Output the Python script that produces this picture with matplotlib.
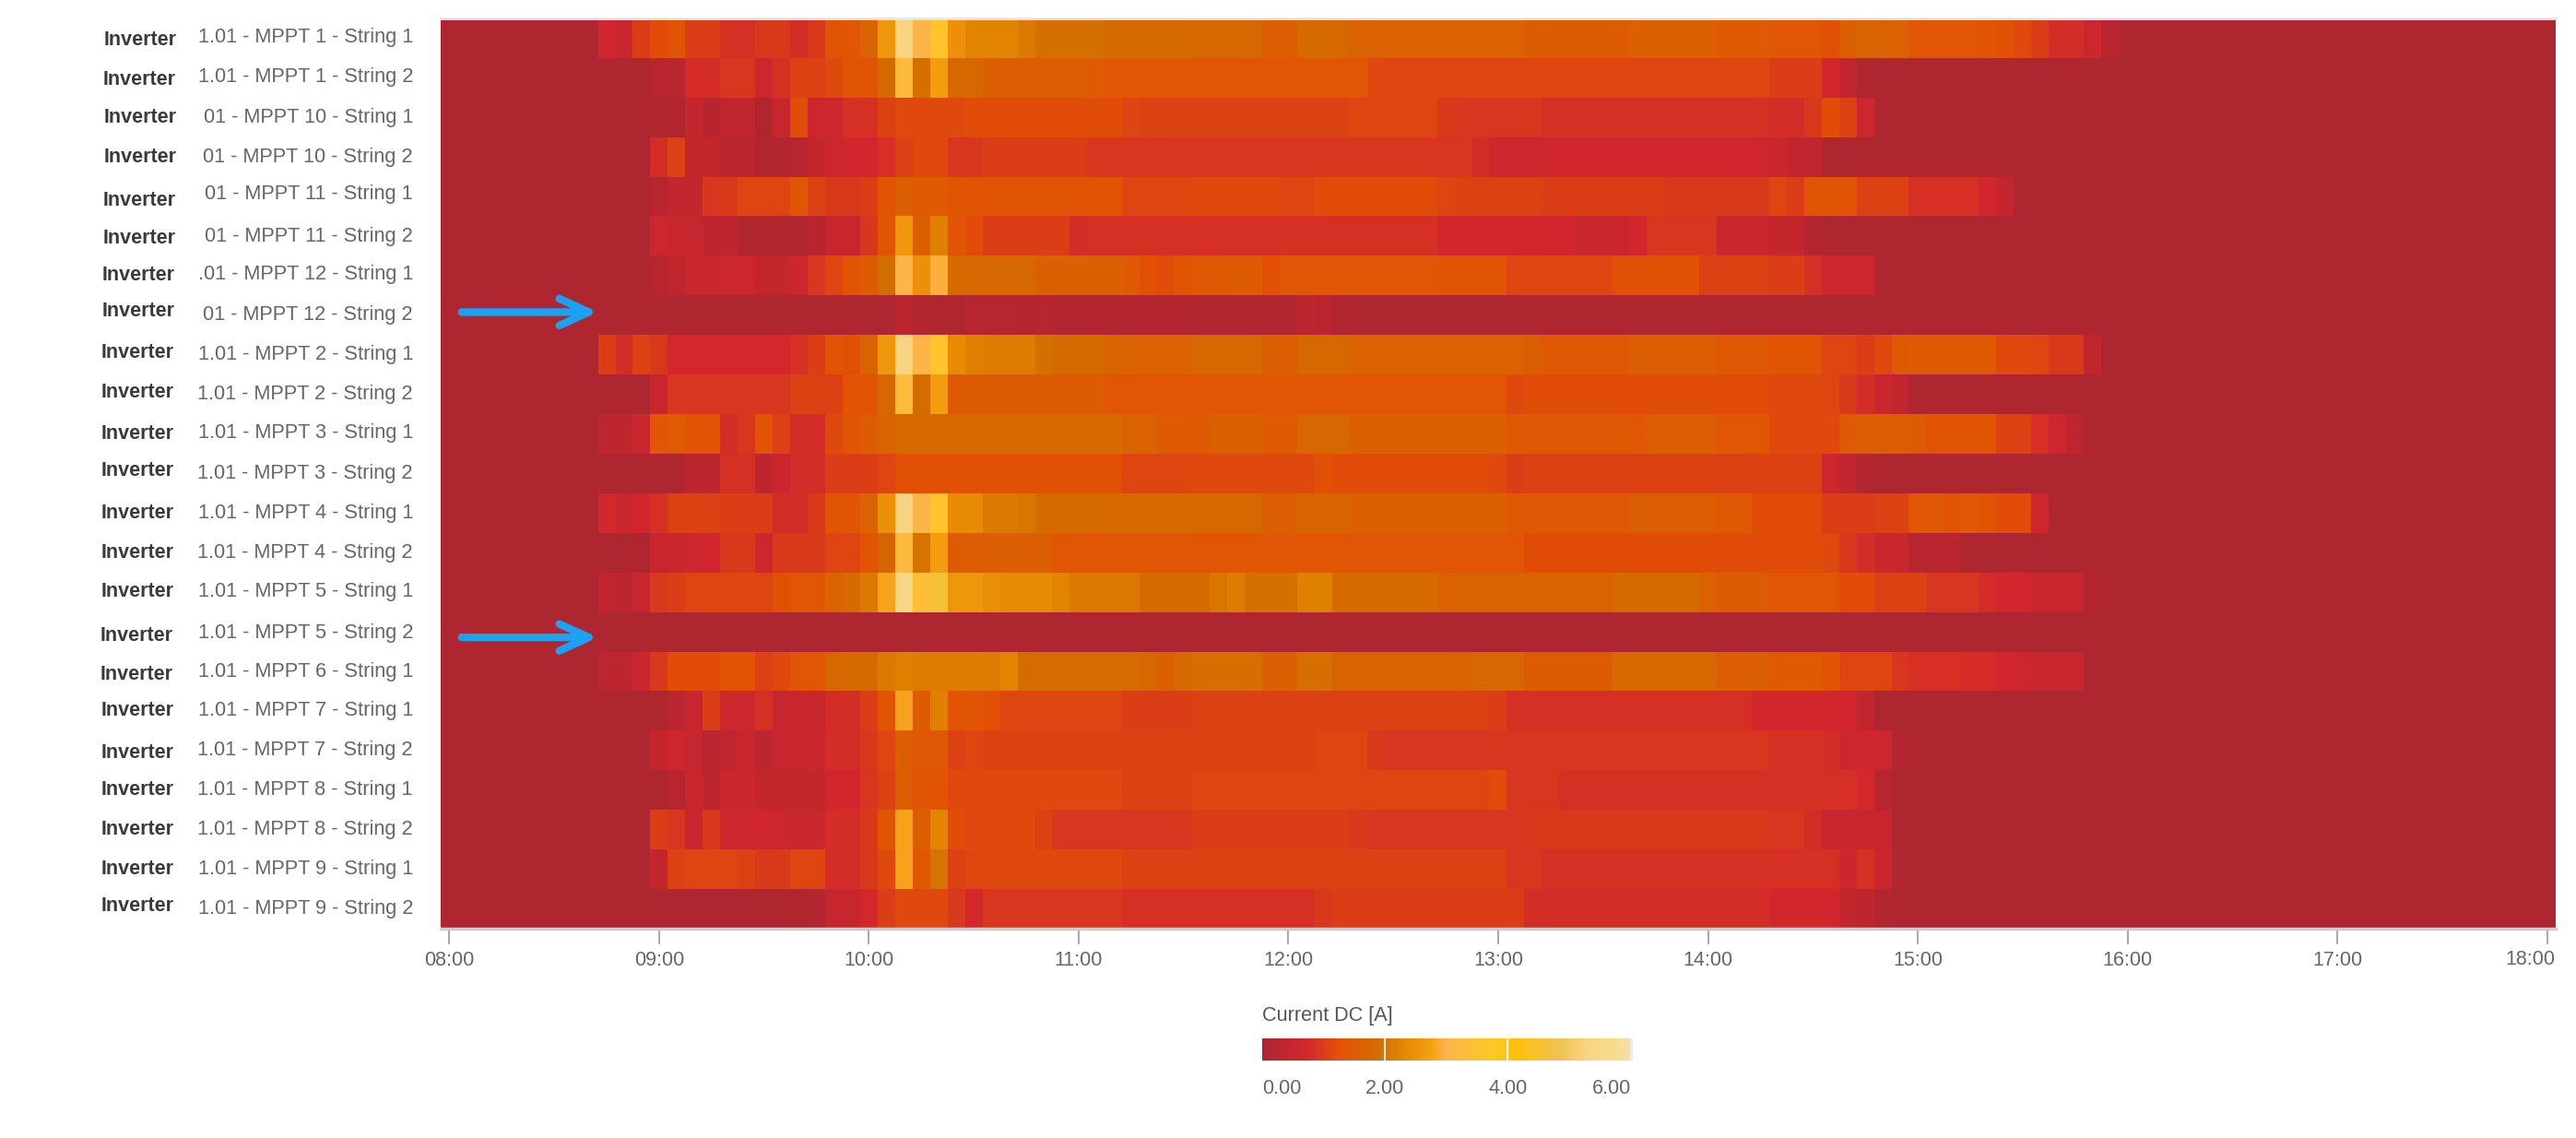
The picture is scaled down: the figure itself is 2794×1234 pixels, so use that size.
'''Heatmap of DC current per string over one day.'''

import numpy as np
import matplotlib
matplotlib.use("Agg")
import matplotlib.pyplot as plt
from matplotlib.colors import LinearSegmentedColormap

plt.rcParams["font.family"] = ["Liberation Sans", "DejaVu Sans"]

W, H = 2794, 1234

# ===============================================================
#  Data
# ===============================================================
row_labels = ["1.01 - MPPT 1 - String 1", "1.01 - MPPT 1 - String 2",
              "01 - MPPT 10 - String 1", "01 - MPPT 10 - String 2",
              "01 - MPPT 11 - String 1", "01 - MPPT 11 - String 2",
              ".01 - MPPT 12 - String 1", "01 - MPPT 12 - String 2",
              "1.01 - MPPT 2 - String 1", "1.01 - MPPT 2 - String 2",
              "1.01 - MPPT 3 - String 1", "1.01 - MPPT 3 - String 2",
              "1.01 - MPPT 4 - String 1", "1.01 - MPPT 4 - String 2",
              "1.01 - MPPT 5 - String 1", "1.01 - MPPT 5 - String 2",
              "1.01 - MPPT 6 - String 1", "1.01 - MPPT 7 - String 1",
              "1.01 - MPPT 7 - String 2", "1.01 - MPPT 8 - String 1",
              "1.01 - MPPT 8 - String 2", "1.01 - MPPT 9 - String 1",
              "1.01 - MPPT 9 - String 2"]
time_labels = ["08:00", "09:00", "10:00", "11:00", "12:00", "13:00",
               "14:00", "15:00", "16:00", "17:00", "18:00"]
cbar_ticks = [0, 2, 4, 6]
cbar_labels = ["0.00", "2.00", "4.00", "6.00"]

# current in A, 5 minute samples, 08:45 to 11:30
morning = [
 [.7,.55,1.0,1.2,1.3,1.0,1.0,.85,.85,.95, .95,.8,.95,1.3,1.35,1.7,2.6,5.3,3.0,3.6, 2.5,2.25,2.25,2.25,2.1,1.95,1.95,1.95,1.95,1.85, 1.85,1.85,1.85,1.85],
 [0,0,0,.25,.25,.8,.8,.9,.9,.65, .85,1.05,1.05,1.15,1.3,1.3,1.8,3.3,1.95,2.7, 1.75,1.75,1.55,1.55,1.55,1.55,1.55,1.55,1.45,1.35, 1.35,1.35,1.35,1.35],
 [0,0,0,.1,.1,.45,.2,.4,.4,.05, .5,1.2,.65,.65,.85,.85,1.05,1.15,1.15,1.15, 1.15,1.2,1.2,1.2,1.2,1.2,1.2,1.2,1.2,1.2, 1.1,1.05,1.05,1.05],
 [0,0,0,.8,1.05,.45,.45,.3,.3,.1, .1,.2,.45,.6,.7,.7,.85,1.05,1.15,1.15, .9,.9,1.0,1.0,1.0,1.0,1.0,1.0,.9,.9, .9,.9,.9,.9],
 [0,0,0,.2,.45,.45,.9,.95,1.1,1.1, 1.1,1.35,1.05,.95,.95,1.0,1.3,1.6,1.45,1.45, 1.3,1.3,1.3,1.3,1.3,1.3,1.3,1.3,1.3,1.3, 1.1,1.1,1.1,1.1],
 [0,0,0,.6,.5,.5,.35,.35,.1,.1, .1,.1,.2,.5,.5,.9,1.3,2.6,1.6,2.2, 1.3,1.2,1.0,1.0,1.0,1.0,1.0,.8,.85,.85, .85,.85,.85,.85],
 [0,0,0,.25,.4,.55,.55,.6,.65,.45, .45,.6,.9,1.1,1.3,1.5,1.9,3.05,2.5,2.95, 1.85,1.75,1.75,1.75,1.75,1.6,1.6,1.6,1.6,1.6, 1.45,1.25,1.2,1.3],
 [0,0,0,0,0,0,0,0,0,0, 0,0,0,0,0,0,0,.3,.1,.05, .05,.2,.2,.2,.15,.2,.12,.12,.12,.12, .12,.12,.12,.12],
 [1.0,.8,1.05,.95,.75,.75,.75,.75,.75,.75, .75,.85,1.0,1.3,1.25,1.7,2.6,5.3,3.0,3.6, 2.4,2.2,2.15,2.15,2.15,1.95,1.85,1.85,1.85,1.7, 1.65,1.65,1.65,1.65],
 [0,0,0,.5,.9,.9,.9,.9,.9,.9, .9,1.05,1.05,1.05,1.3,1.3,1.75,3.3,1.9,2.7, 1.4,1.5,1.5,1.5,1.5,1.5,1.5,1.5,1.5,1.35, 1.35,1.35,1.35,1.35],
 [.35,.35,.55,1.35,1.45,1.3,1.3,.8,.9,1.3, 1.05,.8,.8,1.15,1.3,1.5,1.7,1.8,1.8,1.8, 1.8,1.8,1.8,1.8,1.8,1.8,1.8,1.8,1.8,1.8, 1.7,1.65,1.5,1.5],
 [0,0,0,0,0,.3,.3,.85,.85,.35, .55,.8,.8,1.0,1.0,1.0,1.1,1.25,1.25,1.25, 1.25,1.25,1.25,1.25,1.25,1.25,1.25,1.25,1.25,1.25, 1.1,1.1,1.1,1.1],
 [.75,.5,.7,.85,1.05,1.05,1.05,1.0,1.0,1.0, .8,.8,.95,1.3,1.35,1.65,2.5,5.3,3.0,3.6, 2.4,2.4,2.1,2.1,2.05,1.85,1.85,1.85,1.85,1.8, 1.8,1.8,1.8,1.8],
 [0,0,.05,.5,.55,.65,.7,.95,.95,.65, .95,.95,.95,1.1,1.1,1.3,1.7,3.25,2.0,2.7, 1.5,1.55,1.55,1.55,1.55,1.55,1.35,1.35,1.35,1.35, 1.35,1.35,1.35,1.35],
 [.4,.3,.5,.95,1.0,1.1,1.1,1.1,1.1,1.1, 1.25,1.35,1.35,1.7,1.8,2.1,2.8,5.5,3.4,4.6, 2.6,2.6,2.45,2.4,2.4,2.4,2.25,2.1,2.1,2.1, 2.1,1.85,1.85,1.85],
 [0,0,0,0,0,0,0,0,0,0, 0,0,0,0,0,0,0,0,0,0, 0,0,0,0,0,0,0,0,0,0, 0,0,0,0],
 [.35,.3,.55,.95,1.2,1.2,1.2,1.3,1.3,1.05, 1.15,1.35,1.35,1.75,1.85,1.85,2.1,2.2,2.15,2.15, 2.15,2.15,2.15,2.3,1.9,1.9,1.9,1.9,1.9,1.9, 1.9,1.75,1.6,1.8],
 [0,0,0,.05,.25,.5,1.0,.6,.6,.85, .5,.5,.5,.8,.8,1.0,1.3,2.8,1.5,2.2, 1.3,1.3,1.25,1.1,1.1,1.1,1.1,1.1,1.1,1.1, 1.0,1.0,1.0,1.0],
 [0,0,0,.45,.65,.5,.25,.4,.5,.3, .5,.5,.55,.8,.8,.95,1.1,1.55,1.4,1.4, 1.05,1.1,1.05,1.05,1.05,1.05,1.05,1.05,1.05,1.05, 1.05,1.05,1.05,1.05],
 [0,0,0,0,.2,.5,.3,.55,.55,.45, .45,.45,.45,.7,.7,.9,1.05,1.55,1.3,1.3, 1.15,1.15,1.15,1.15,1.15,1.15,1.15,1.15,1.15,1.15, 1.05,1.05,1.05,1.05],
 [0,0,0,1.0,.9,.5,.95,.6,.6,.7, .6,.55,.55,.8,.8,.95,1.3,2.8,1.55,2.3, 1.2,1.15,1.15,1.15,1.15,1.05,.9,.9,.9,.9, .9,.9,.9,.9],
 [0,0,0,.45,1.05,1.1,1.1,1.1,1.05,.95, .95,1.1,1.1,.8,.8,.95,1.15,2.8,1.4,2.0, 1.05,1.1,1.15,1.15,1.15,1.15,1.15,1.15,1.15,1.15, 1.05,1.05,1.05,1.05],
 [0,0,0,0,0,0,0,0,0,0, .05,.05,.15,.5,.5,.75,1.0,1.15,1.15,1.15, .95,.75,.9,.9,.9,.9,.9,.9,.9,.9, .85,.85,.85,.85],
]

# current in A, 5 minute samples from 11:35, zero after the list ends
afternoon = [
 [1.75,1.75,1.75,1.75,1.55,1.55,1.85,1.85,1.75,1.65, 1.65,1.65,1.65,1.65,1.65,1.65,1.65,1.65,1.65,1.5, 1.5,1.5,1.5,1.5,1.5,1.6,1.6,1.6,1.6,1.6, 1.45,1.45,1.45,1.35,1.35,1.35,1.25,1.6,1.7,1.65, 1.65,1.35,1.35,1.35,1.35,1.3,1.25,1.15,1.0,.8, .8,.6,.25],
 [1.35,1.35,1.35,1.35,1.35,1.35,1.35,1.35,1.35,1.35, 1.15,1.1,1.1,1.1,1.1,1.1,1.1,1.1,1.1,1.1, 1.1,1.1,1.1,1.1,1.1,1.1,1.1,1.1,1.1,1.1, 1.1,1.1,1.1,1.0,1.0,1.0,.7,.4],
 [1.05,1.05,1.05,1.05,1.05,1.05,1.05,1.05,1.05,1.1, 1.1,1.1,1.1,1.1,.95,.9,.9,.9,.9,.9, .85,.85,.85,.85,.85,.85,.85,.85,.85,.85, .85,.85,.85,.8,.8,.95,1.2,1.05,.6],
 [.9,.9,.9,.9,.9,.9,.9,.9,.9,.9, .9,.9,.9,.9,.9,.9,.8,.65,.65,.65, .7,.7,.7,.7,.7,.7,.7,.7,.7,.7, .7,.7,.65,.55,.4,.4],
 [1.15,1.15,1.15,1.15,1.15,1.1,1.1,1.2,1.2,1.2, 1.2,1.2,1.2,1.2,1.1,1.05,1.05,1.05,1.05,1.05, 1.0,1.0,1.0,1.0,1.0,1.0,1.0,.95,.95,.95, .95,.95,.95,1.1,1.0,1.3,1.3,1.3,1.05,1.05, 1.05,.85,.85,.85,.85,.7,.45],
 [.85,.85,.85,.85,.85,.85,.85,.85,.85,.85, .85,.85,.85,.85,.7,.7,.7,.7,.7,.7, .7,.7,.55,.55,.55,.7,.9,.9,.9,.9, .55,.55,.55,.45,.45,.15],
 [1.4,1.4,1.5,1.5,1.25,1.35,1.35,1.35,1.35,1.35, 1.35,1.35,1.35,1.35,1.3,1.3,1.3,1.3,1.1,1.1, 1.1,1.1,1.1,1.1,1.25,1.25,1.25,1.25,1.25,1.05, 1.05,1.05,1.05,1.0,1.0,.85,.65,.65,.65],
 [.1,.1,.1,.1,.1,.1,.3,.25,.05,.05],
 [1.75,1.75,1.75,1.75,1.55,1.55,1.75,1.75,1.75,1.65, 1.65,1.65,1.65,1.65,1.65,1.65,1.65,1.65,1.65,1.55, 1.4,1.4,1.4,1.4,1.4,1.55,1.55,1.55,1.55,1.55, 1.4,1.4,1.4,1.3,1.3,1.3,1.1,1.1,1.0,1.15, 1.4,1.45,1.45,1.45,1.45,1.45,1.15,1.15,1.1,.95, .95,.4],
 [1.35,1.35,1.35,1.35,1.35,1.35,1.35,1.35,1.35,1.35, 1.35,1.35,1.35,1.35,1.35,1.35,1.35,1.35,1.15,1.2, 1.2,1.2,1.2,1.2,1.2,1.2,1.2,1.2,1.2,1.2, 1.2,1.2,1.2,1.15,1.15,1.15,1.1,.95,.8,.55, .4],
 [1.4,1.6,1.6,1.6,1.45,1.45,1.75,1.75,1.75,1.6, 1.6,1.6,1.6,1.6,1.6,1.6,1.6,1.6,1.4,1.4, 1.4,1.4,1.4,1.4,1.4,1.35,1.55,1.55,1.55,1.55, 1.35,1.35,1.35,1.15,1.15,1.15,1.15,1.5,1.55,1.55, 1.55,1.45,1.3,1.3,1.3,1.3,1.05,1.05,.85,.65, .35],
 [1.15,1.15,1.15,1.15,1.15,1.15,1.15,1.25,1.2,1.2, 1.2,1.2,1.2,1.2,1.2,1.2,1.2,1.15,1.0,1.05, 1.05,1.05,1.05,1.05,1.05,1.05,1.05,1.05,1.05,1.05, 1.05,1.05,1.05,1.05,1.05,1.05,.65,.4,.15],
 [1.75,1.75,1.75,1.75,1.55,1.55,1.7,1.7,1.7,1.6, 1.6,1.6,1.6,1.6,1.6,1.6,1.6,1.6,1.4,1.4, 1.4,1.4,1.4,1.4,1.4,1.55,1.55,1.55,1.55,1.55, 1.4,1.4,1.2,1.2,1.2,1.2,1.0,1.0,1.0,1.05, 1.05,1.35,1.4,1.3,1.4,1.3,1.2,1.2,.65],
 [1.35,1.35,1.35,1.35,1.35,1.35,1.35,1.35,1.35,1.35, 1.35,1.35,1.35,1.35,1.35,1.35,1.35,1.35,1.35,1.2, 1.2,1.2,1.2,1.2,1.2,1.2,1.2,1.2,1.2,1.2, 1.2,1.2,1.2,1.2,1.2,1.2,1.15,.95,.8,.55, .55,.2,.2,.25,.05],
 [1.85,2.05,2.15,1.95,1.95,1.95,2.2,2.2,1.85,1.85, 1.85,1.85,1.85,1.85,1.65,1.7,1.7,1.7,1.7,1.7, 1.7,1.7,1.7,1.7,1.85,1.85,1.85,1.85,1.85,1.65, 1.5,1.5,1.5,1.35,1.35,1.35,1.35,1.2,1.2,1.05, 1.05,1.05,.9,.9,.9,.8,.7,.7,.5,.5, .5,.1],
 [],
 [1.95,1.95,1.95,1.95,1.6,1.6,1.95,1.95,1.7,1.7, 1.7,1.7,1.7,1.7,1.7,1.7,1.75,1.75,1.75,1.5, 1.5,1.5,1.5,1.5,1.8,1.8,1.8,1.8,1.8,1.8, 1.55,1.55,1.55,1.45,1.45,1.45,1.3,1.1,1.1,1.1, .9,.85,.85,.85,.8,.8,.7,.6,.5,.5, .5],
 [1.05,1.05,1.05,1.05,1.05,1.05,1.05,1.05,1.05,1.05, 1.05,1.05,1.05,1.05,1.05,1.05,1.05,1.0,.85,.85, .85,.85,.85,.85,.85,.85,.85,.85,.85,.85, .85,.85,.7,.7,.7,.7,.7,.7,.4],
 [1.05,1.05,1.05,1.05,1.05,1.05,1.05,1.1,1.1,1.1, .95,.9,.9,.9,.9,.9,.9,.9,.9,.9, .9,.9,.9,.9,.9,.9,.9,.9,.9,.9, .9,.9,.9,.85,.85,.85,.8,.6,.65,.65, .15],
 [1.1,1.1,1.1,1.1,1.1,1.1,1.1,1.1,1.1,1.1, 1.1,1.1,1.1,1.1,1.1,1.1,1.1,1.2,.9,.9, .9,.85,.85,.85,.85,.85,.85,.85,.85,.85, .85,.85,.85,.85,.85,.85,.85,.85,.75,.2],
 [1.0,1.0,1.0,1.0,1.0,1.0,1.0,1.0,1.0,.95, .9,.9,.9,.9,.9,.9,.9,.9,.9,.95, .95,.95,.95,.95,.95,.95,.95,.95,.95,.95, .95,.95,.95,.9,.9,.8,.5,.5,.5,.5],
 [1.05,1.05,1.05,1.05,1.05,1.05,1.05,1.05,1.05,1.05, 1.05,1.05,1.05,1.05,1.05,1.05,1.05,1.05,.9,.9, .85,.85,.85,.85,.85,.85,.85,.85,.85,.85, .85,.85,.85,.85,.85,.85,.85,.65,.85,.55],
 [.85,.85,.85,.85,.85,.85,.85,.95,1.0,1.0, 1.0,1.0,1.0,1.0,1.0,1.0,1.0,1.0,1.0,.8, .8,.8,.8,.8,.8,.8,.8,.8,.8,.8, .8,.8,.8,.7,.7,.7,.7,.45,.35,.1],
]

n_cols = 121
current = np.zeros((len(row_labels), n_cols))
for i in range(len(row_labels)):
    current[i, 9:9+len(morning[i])] = morning[i]
    current[i, 43:43+len(afternoon[i])] = afternoon[i]

# ===============================================================
#  Layout, in pixels of the saved picture
# ===============================================================
def box(x0, y0, x1, y1):
    return [x0/W, 1-y1/H, (x1-x0)/W, (y1-y0)/H]

def put(x, y, s, **kw):
    fig.text(x/W, 1-y/H, s, va="center", **kw)

inverter_x = [113,112,113,113,112,112,111,111,110,110,110,110,110,110,110,109,109,110,110,110,110,110,110]
inverter_dy = [2,2,0,0,4,2,0,-4,-2,-2,0,-3,0,0,-1,4,3,0,3,0,0,0,-3]
string_dy = [-1,-1,0,0,-3,0,-1,0,0,0,-1,0,0,0,-1,1,0,0,0,0,0,0,0]

cmap = LinearSegmentedColormap.from_list("current", [
    (0/6.05, "#AD2630"), (.7/6.05, "#D2262E"), (1.25/6.05, "#E35205"),
    (1.9/6.05, "#D46E00"), (2.2/6.05, "#E08000"), (2.75/6.05, "#F5A010"),
    (3.0/6.05, "#FDB44A"), (3.75/6.05, "#FFC825"), (4.15/6.05, "#FFC00A"),
    (4.85/6.05, "#EFC250"), (5.3/6.05, "#F7D580"), (5.8/6.05, "#F9DC90"),
    (1.0, "#F2E0A8")])

fig = plt.figure(figsize=(W/100, H/100), dpi=100)
ax = fig.add_axes(box(478, 20, 2772, 1007))
im = ax.imshow(current, aspect="auto", cmap=cmap, vmin=0, vmax=6.05,
               interpolation="nearest")

ax.set_xticks(np.arange(len(time_labels))*12)
ax.set_xticklabels(time_labels[:-1]+[""], fontsize=15.5, color="#666666")
ax.tick_params(axis="x", length=12.5, width=1.5, color="#AAAAAA", pad=5)
ax.set_yticks([])
for side in ["left", "right"]:
    ax.spines[side].set_visible(False)
ax.spines["top"].set_color("#E6E6E6")
ax.spines["top"].set_linewidth(2)
ax.spines["bottom"].set_color("#CCCCCC")
ax.spines["bottom"].set_linewidth(2.5)

# the last time label sits left of its tick, inside the plot width
put(2771, 1041, time_labels[-1], ha="right", fontsize=15.5, color="#666666")

row_h = (1007-20)/len(row_labels)
for i in range(len(row_labels)):
    yc = 20+row_h*(i+.5)
    put(inverter_x[i], yc+inverter_dy[i], "Inverter", ha="left", fontsize=15.5,
        fontweight="bold", color="#3A3A3A")
    put(448, yc+string_dy[i], row_labels[i], ha="right", fontsize=15.7, color="#666666")

# arrows marking the two dead strings
for row, dy in [(7, -.08), (15, .14)]:
    ax.annotate("", xy=(8.5, row+dy), xytext=(0.7, row+dy),
                arrowprops=dict(arrowstyle="->,head_length=2.3,head_width=1.05",
                                color="#1DA1F2", lw=6, capstyle="round",
                                shrinkA=0, shrinkB=0))

# colour scale
cax = fig.add_axes(box(1369, 1126, 1771, 1150))
cb = fig.colorbar(im, cax=cax, orientation="horizontal")
cb.outline.set_visible(False)
cb.set_ticks([])
for v in cbar_ticks[1:3]:
    cax.axvline(v, color="#F2F2F2", lw=1.5)
cax.axvline(6.02, color="#EDEDED", lw=2)

put(1369, 1102, "Current DC [A]", ha="left", fontsize=15.6, color="#555555")
put(1369, 1180, cbar_labels[0], ha="left", fontsize=15.5, color="#666666")
put(1502, 1180, cbar_labels[1], ha="center", fontsize=15.5, color="#666666")
put(1636, 1180, cbar_labels[2], ha="center", fontsize=15.5, color="#666666")
put(1769, 1180, cbar_labels[3], ha="right", fontsize=15.5, color="#666666")

fig.savefig("out.png", dpi=100)
